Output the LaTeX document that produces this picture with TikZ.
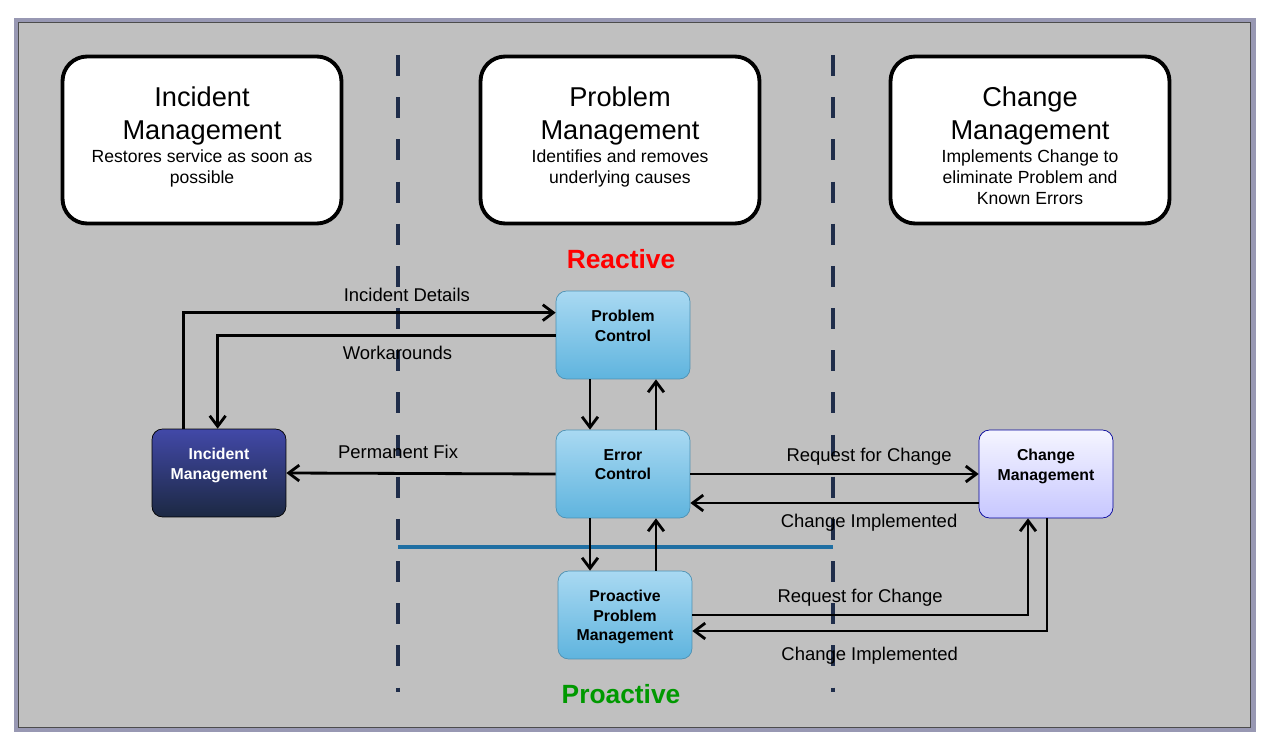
\documentclass[tikz,border=0pt]{standalone}
\usepackage{fontspec}
\setmainfont{Liberation Sans}
\usetikzlibrary{arrows.meta,calc}
\definecolor{panel}{HTML}{C0C0C0}
\definecolor{navy}{HTML}{1F2D4A}
\definecolor{lineblue}{HTML}{1F6FA3}
\definecolor{boxtop}{HTML}{A9D9F2}
\definecolor{boxbot}{HTML}{5FB4DE}
\begin{document}
\begin{tikzpicture}[x=0.02cm, y=-0.02cm,
  header/.style={rectangle, rounded corners=14pt, draw, line width=2.2pt, fill=white, minimum width=5.58cm, minimum height=3.34cm},
  hdtitle/.style={anchor=north, align=center, inner sep=0pt, yshift=-18pt, font=\fontsize{15.5}{19}\selectfont},
  hdsub/.style={anchor=north, align=center, inner sep=0pt, yshift=-2pt, font=\fontsize{10}{12}\selectfont},
  proc/.style={rectangle, rounded corners=6pt, draw=boxbot!80!black, minimum width=2.68cm, minimum height=1.76cm, top color=boxtop, bottom color=boxbot},
  ptext/.style={anchor=north, align=center, inner sep=0pt, yshift=-11pt, font=\bfseries\fontsize{9}{11}\selectfont},
  lbl/.style={font=\fontsize{10.5}{12}\selectfont},
  arr/.style={-{Straight Barb[length=6pt,width=9pt]}, line width=1.6pt},
  divider/.style={navy, line width=2.5pt, dash pattern=on 12pt off 12pt}]
  \useasboundingbox (0,0) rectangle (1271,750);
  % frame
  \fill[white] (0,0) rectangle (1271,750);
  \fill[blue!15!gray!70] (14,18) rectangle (1256,732);
  \draw[fill=panel, draw=gray!60!black] (18,22) rectangle (1250,727);
  % headers
  \node[header] (hinc) at (202,140) {};
  \node[hdtitle] (tinc) at (hinc.north) {Incident\\Management};
  \node[hdsub] (sinc) at (tinc.south) {Restores service as soon as\\possible};
  \node[header] (hprb) at (620,140) {};
  \node[hdtitle] (tprb) at (hprb.north) {Problem\\Management};
  \node[hdsub] (sprb) at (tprb.south) {Identifies and removes\\underlying causes};
  \node[header] (hchg) at (1030,140) {};
  \node[hdtitle] (tchg) at (hchg.north) {Change\\Management};
  \node[hdsub] (schg) at (tchg.south) {Implements Change to\\eliminate Problem and\\Known Errors};
  % dividers
  \draw[divider] (398,55) -- (398,692);
  \draw[divider] (833,55) -- (833,692);
  \draw[lineblue, line width=2.5pt] (398,547) -- (833,547);
  \node[text=red, font=\bfseries\fontsize{15}{18}\selectfont] (reac) at (621,259) {Reactive};
  \node[text=green!60!black, font=\bfseries\fontsize{15}{18}\selectfont] (proa) at (621,694) {Proactive};
  % process boxes
  \node[proc] (pc) at (623,335) {};
  \node[ptext] at (pc.north) {Problem\\Control};
  \node[proc] (ec) at (623,474) {};
  \node[ptext] at (ec.north) {Error\\Control};
  \node[proc] (ppm) at (625,615) {};
  \node[ptext] at (ppm.north) {Proactive\\Problem\\Management};
  \node[proc, top color=navy!60!blue!80, bottom color=navy!90!black, draw=black] (inc) at (219,473) {};
  \node[ptext, text=white] at (inc.north) {Incident\\Management};
  \node[proc, top color=blue!4, bottom color=blue!22, draw=blue!60!black] (chg) at (1046,474) {};
  \node[ptext] at (chg.north) {Change\\Management};
  % connectors
  \draw[arr] ($(inc.north west)+(32,0)$) |- node[lbl, pos=0.8, above=2pt] (l1) {Incident Details} ($(pc.north west)+(0,22)$);
  \draw[arr] ($(pc.north west)+(0,45)$) -| node[lbl, pos=0.234, below=2pt] (l2) {Workarounds} ($(inc.north west)+(66,0)$);
  \draw[arr] (ec.west) -- node[lbl, pos=0.585, above=4pt] (l3) {Permanent Fix} (inc.east);
  \draw[arr] ($(pc.south)+(-33,0)$) -- ($(ec.north)+(-33,0)$);
  \draw[arr] ($(ec.north)+(33,0)$) -- ($(pc.south)+(33,0)$);
  \draw[arr] ($(ec.south)+(-33,0)$) -- ($(ppm.north)+(-35,0)$);
  \draw[arr] ($(ppm.north)+(31,0)$) -- ($(ec.south)+(33,0)$);
  \draw[arr] (ec.east) -- node[lbl, pos=0.62, above=1pt] (l4) {Request for Change} (chg.west);
  \draw[arr] ($(chg.west)+(0,29)$) -- node[lbl, pos=0.38, below=2pt] (l5) {Change Implemented} ($(ec.east)+(0,29)$);
  \draw[arr] (ppm.east) -| node[lbl, pos=0.25, above=1pt] (l6) {Request for Change} ($(chg.south)+(-18,0)$);
  \draw[arr] ($(chg.south)+(1,0)$) |- node[lbl, pos=0.75, below=5pt] (l7) {Change Implemented} ($(ppm.east)+(0,16)$);
\end{tikzpicture}
\end{document}
